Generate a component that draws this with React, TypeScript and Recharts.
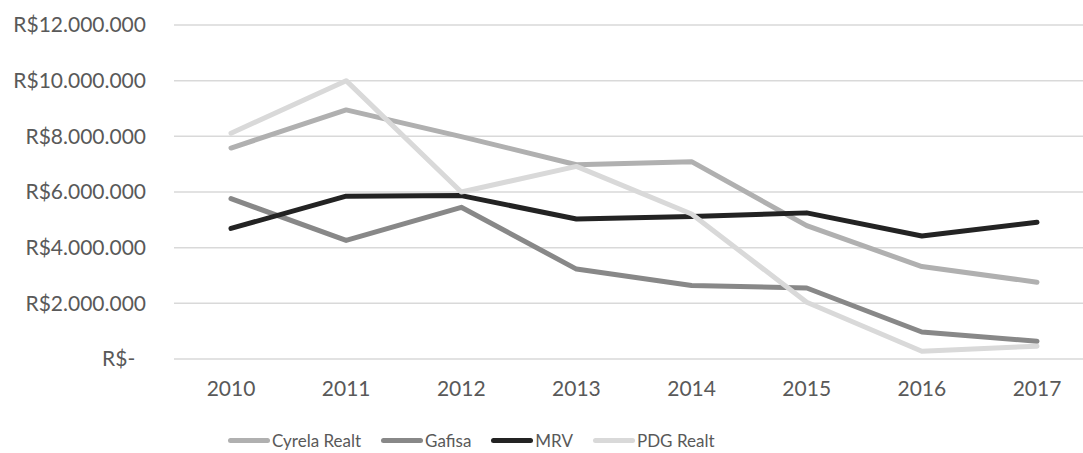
import { CartesianGrid, Legend, Line, LineChart, XAxis, YAxis } from "recharts";

const years = ["2010", "2011", "2012", "2013", "2014", "2015", "2016", "2017"];
const cyrela = [7580000, 8950000, 7990000, 6980000, 7090000, 4790000, 3320000, 2760000];
const gafisa = [5760000, 4260000, 5450000, 3230000, 2640000, 2550000, 970000, 640000];
const mrv = [4690000, 5850000, 5870000, 5030000, 5120000, 5250000, 4420000, 4910000];
const pdg = [8110000, 10000000, 6000000, 6920000, 5210000, 2040000, 280000, 460000];
const yTicks = [0, 2000000, 4000000, 6000000, 8000000, 10000000, 12000000];

const series = [
  { key: "Cyrela Realt", values: cyrela, color: "#b0b0b0" },
  { key: "Gafisa", values: gafisa, color: "#888888" },
  { key: "MRV", values: mrv, color: "#232323" },
  { key: "PDG Realt", values: pdg, color: "#d9d9d9" }
];

const data = years.map((year, i) => {
  const row: Record<string, string | number> = { year };
  series.forEach((s) => {
    row[s.key] = s.values[i];
  });
  return row;
});

const font = "Lato, 'Open Sans', sans-serif";
const textColor = "#595959";

function formatMoney(value: number) {
  if (value === 0) return "R$-\u00A0\u00A0";
  return "R$" + String(value).replace(/\B(?=(\d{3})+(?!\d))/g, ".");
}

function LegendContent({ payload }: { payload?: { value: string; color: string }[] }) {
  return (
    <div style={{ display: "flex", alignItems: "center", height: 26, paddingLeft: 228 }}>
      {(payload || []).map((item) => (
        <div key={item.value} style={{ display: "flex", alignItems: "center", marginRight: 20 }}>
          <div style={{ width: 42, height: 5, borderRadius: 3, background: item.color, marginRight: 2 }} />
          <span style={{ fontFamily: font, fontSize: 17, color: textColor }}>{item.value}</span>
        </div>
      ))}
    </div>
  );
}

export default function App() {
  return (
    <div style={{ position: "absolute", left: 0, top: 0, width: 1083, height: 453, overflow: "hidden", background: "#fff" }}>
      <LineChart width={1100} height={453} data={data} margin={{ top: 25, right: 6, bottom: 28, left: 0 }}>
        <CartesianGrid vertical={false} stroke="#d9d9d9" strokeWidth={1.5} />
        <XAxis
          dataKey="year"
          height={40}
          padding={{ left: 57, right: 57 }}
          axisLine={false}
          tickLine={false}
          tickSize={0}
          tickMargin={22}
          tick={{ fill: textColor, fontFamily: font, fontSize: 21 }}
        />
        <YAxis
          width={174}
          domain={[0, 12000000]}
          ticks={yTicks}
          axisLine={false}
          tickLine={false}
          tickSize={0}
          tickMargin={28}
          tickFormatter={formatMoney}
          tick={{ fill: textColor, fontFamily: font, fontSize: 21 }}
        />
        <Legend
          verticalAlign="bottom"
          content={<LegendContent />}
          wrapperStyle={{ top: 427, left: 0, width: 1083 }}
        />
        {series.map((s) => (
          <Line
            key={s.key}
            dataKey={s.key}
            stroke={s.color}
            strokeWidth={5}
            strokeLinecap="round"
            strokeLinejoin="round"
            dot={false}
            activeDot={false}
            isAnimationActive={false}
          />
        ))}
      </LineChart>
    </div>
  );
}
